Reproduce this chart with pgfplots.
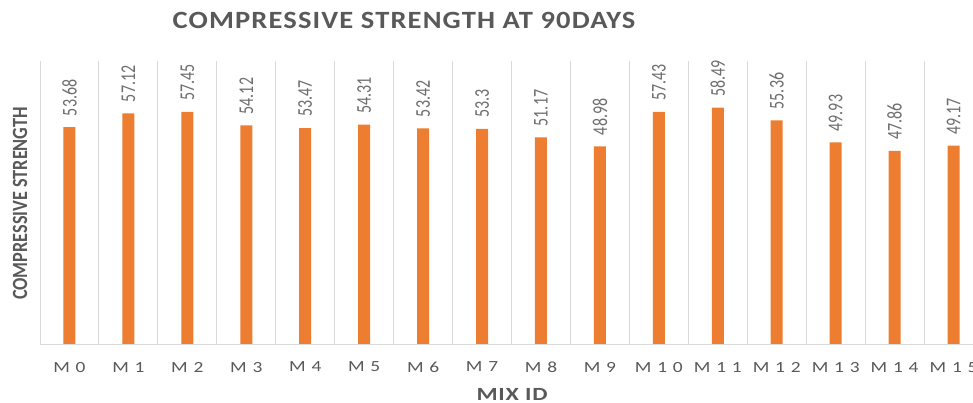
\documentclass[border=0pt]{standalone}
\usepackage{fontspec}
\setmainfont{Carlito}
\usepackage{graphicx}
\usepackage{pgfplots}
\pgfplotsset{compat=1.18}

\definecolor{barorange}{HTML}{ED7D31}
\definecolor{txtgray}{HTML}{595959}
\definecolor{valgray}{HTML}{6E6E6E}
\definecolor{gridgray}{HTML}{D9D9D9}

% spaced-out category labels
\newcommand\xl[1]{\scalebox{1.25}[1]{\addfontfeatures{LetterSpace=30}#1}}

\pgfplotstableread{
mix strength
0 53.68
1 57.12
2 57.45
3 54.12
4 53.47
5 54.31
6 53.42
7 53.3
8 51.17
9 48.98
10 57.43
11 58.49
12 55.36
13 49.93
14 47.86
15 49.17
}\strength

\begin{document}
\begin{tikzpicture}
\begin{axis}[
  at={(40pt,58pt)}, anchor=south west,
  scale only axis, width=943pt, height=284pt,
  xmin=-0.5, xmax=15.5, ymin=0, ymax=70,
  ybar, bar width=12pt,
  axis line style={draw=none},
  ytick=\empty,
  xtick={0,...,15},
  xticklabels={\xl{M0},\xl{M1},\xl{M2},\xl{M3},\xl{M4},\xl{M5},\xl{M6},\xl{M7},
               \xl{M8},\xl{M9},\xl{M10},\xl{M11},\xl{M12},\xl{M13},\xl{M14},\xl{M15}},
  minor xtick={-0.5,0.5,...,15.5},
  xminorgrids=true,
  minor grid style={gridgray, line width=0.9pt},
  major tick length=0pt, minor tick length=0pt,
  xticklabel style={font=\fontsize{15.5}{18}\selectfont, text=txtgray, yshift=-13.5pt},
  nodes near coords={\scalebox{0.76}[1]{\pgfmathprintnumber[assume math mode=true, fixed, precision=2]{\pgfplotspointmeta}}},
  nodes near coords style={rotate=90, anchor=west, inner xsep=11pt, inner ysep=0pt,
                           font=\fontsize{21}{24}\selectfont, text=valgray},
]
\addplot[fill=barorange, draw=none] table[x=mix, y=strength] {\strength};
\draw[gridgray, line width=1pt] (axis cs:-0.5,0) -- (axis cs:15.5,0);
\end{axis}

% title and axis titles
\node[text=txtgray, font=\bfseries\fontsize{24.8}{28}\selectfont] at (404pt,383pt)
  {\scalebox{1.15}[1]{\addfontfeatures{LetterSpace=4}COMPRESSIVE STRENGTH AT 90DAYS}};
\node[text=txtgray, font=\bfseries\fontsize{21.7}{24}\selectfont, rotate=90] at (20pt,199.5pt)
  {\scalebox{0.84}[1]{COMPRESSIVE STRENGTH}};
\node[text=txtgray, font=\bfseries\fontsize{18.6}{21}\selectfont] at (512pt,9pt)
  {\scalebox{1.3}[1]{\addfontfeatures{LetterSpace=3}MIX ID}};

\pgfresetboundingbox
\useasboundingbox (0pt,0pt) rectangle (973pt,403pt);
\end{tikzpicture}
\end{document}
